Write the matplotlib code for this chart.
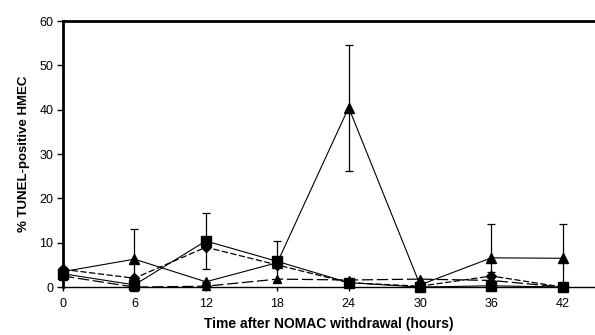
import matplotlib
matplotlib.use("Agg")
import matplotlib.pyplot as plt

plt.rcParams['font.family'] = ['Liberation Sans', 'DejaVu Sans']

# ── DATA ───────────────────────────────────────────────────────
hours = [0, 6, 12, 18, 24, 30, 36, 42]

# triangles, solid line, the one with the 24 h peak
tri_peak     = [3.5, 6.3, 1.2, 5.5, 40.5, 0.5, 6.6, 6.5]
tri_peak_err = [0.0, 6.9, 0.0, 0.0, 14.2, 0.0, 7.7, 7.8]

# squares, solid line
square     = [3.0, 0.5, 10.4, 5.8, 1.0, 0.0, 0.3, 0.0]
square_err = [0.0, 0.0, 6.4, 4.6, 0.0, 0.0, 0.0, 0.0]

# diamonds, short dashes
diamond     = [4.0, 2.0, 9.0, 5.0, 1.0, 0.2, 2.5, 0.0]
diamond_err = [0.0, 0.0, 0.0, 0.0, 0.0, 0.0, 1.0, 0.0]

# small triangles, long dashes
tri_low = [2.5, 0.0, 0.2, 1.8, 1.6, 1.8, 1.5, 0.0]

y_ticks = [0, 10, 20, 30, 40, 50, 60]
x_ticks = [0, 6, 12, 18, 24, 30, 36, 42]

# ── FIGURE ─────────────────────────────────────────────────────
fig = plt.figure(figsize=(5.95, 3.35), dpi=100)
ax = fig.add_axes([0.106, 0.143, 0.894, 0.794])

series = [
    (tri_peak, tri_peak_err, "^", 6.5, "-", 0.8),
    (square, square_err, "s", 7.5, "-", 0.8),
    (diamond, diamond_err, "D", 5.5, (0, (5, 2)), 0.9),
    (tri_low, None, "^", 5.5, (0, (9, 3)), 0.9),
]

for vals, err, mk, ms, ls, lw in series:
    ax.plot(hours, vals, color="black", linestyle=ls, linewidth=lw,
            marker=mk, markersize=ms, markerfacecolor="black",
            markeredgecolor="black", clip_on=False, zorder=3)
    if err is not None:
        ax.errorbar(hours, vals, yerr=err, fmt="none", ecolor="black",
                    elinewidth=0.9, capsize=3, capthick=0.9, zorder=2)

ax.set_xlim(0, 44.7)
ax.set_ylim(0, 60)
ax.set_xticks(x_ticks)
ax.set_yticks(y_ticks)

ax.spines["left"].set_linewidth(2.0)
ax.spines["top"].set_linewidth(2.0)
ax.spines["bottom"].set_linewidth(1.0)
ax.spines["right"].set_visible(False)

ax.tick_params(axis="y", direction="out", length=4, width=1,
               labelsize=9, pad=3)
ax.tick_params(axis="x", direction="out", length=3, width=1,
               labelsize=9, pad=5)

ax.set_ylabel("% TUNEL-positive HMEC", fontsize=9.5, fontweight="bold",
              labelpad=7)
ax.set_xlabel("Time after NOMAC withdrawal (hours)", fontsize=10,
              fontweight="bold", labelpad=5)

plt.savefig("out.png", dpi=100)
plt.close()
